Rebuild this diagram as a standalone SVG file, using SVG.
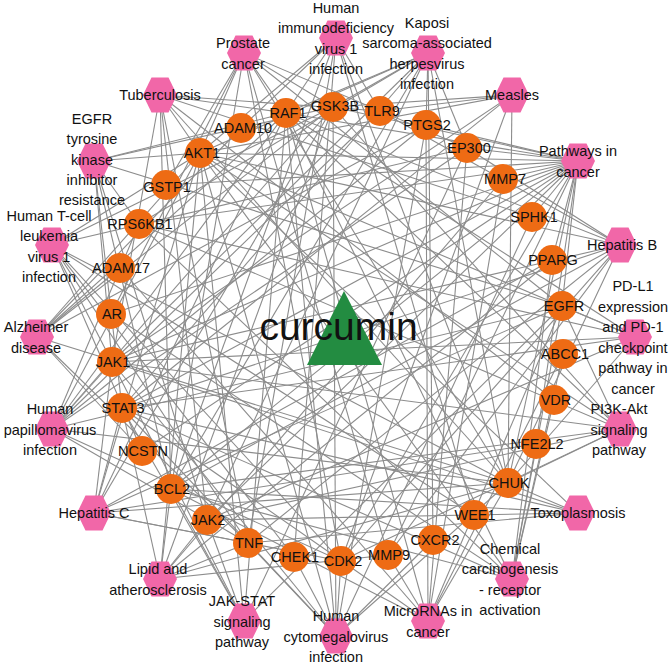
<svg xmlns="http://www.w3.org/2000/svg" xmlns:xlink="http://www.w3.org/1999/xlink" width="671" height="664" viewBox="0 0 671 664">
<style>
#edges line{stroke:#8c8c8c;stroke-width:1.1}
.gene circle{fill:#EE6B14}
.dis use{fill:#F167A8}
text{font-family:"Liberation Sans",Arial,sans-serif;font-size:14.5px;text-anchor:middle;fill:#111}
.big{font-size:39px}
</style>
<defs>
<polygon id="hex" points="-17,0 -8.5,-17.5 8.5,-17.5 17,0 8.5,17.5 -8.5,17.5"/>
</defs>
<rect width="671" height="664" fill="#fff"/>
<g id="edges">
<!-- Prostate cancer -->
<line x1="244" y1="53" x2="333" y2="107"/><line x1="244" y1="53" x2="467" y2="148"/><line x1="244" y1="53" x2="562" y2="306"/><line x1="244" y1="53" x2="508" y2="483"/><line x1="244" y1="53" x2="171" y2="489"/><line x1="244" y1="53" x2="111" y2="314"/><line x1="244" y1="53" x2="200" y2="153"/><line x1="244" y1="53" x2="286" y2="113"/><line x1="244" y1="53" x2="341" y2="561"/><line x1="244" y1="53" x2="166" y2="185"/><line x1="244" y1="53" x2="388" y2="555"/>
<!-- Tuberculosis -->
<line x1="160" y1="95" x2="380" y2="111"/><line x1="160" y1="95" x2="248" y2="543"/><line x1="160" y1="95" x2="112" y2="362"/><line x1="160" y1="95" x2="207" y2="520"/><line x1="160" y1="95" x2="171" y2="489"/><line x1="160" y1="95" x2="200" y2="153"/><line x1="160" y1="95" x2="554" y2="400"/><line x1="160" y1="95" x2="286" y2="113"/><line x1="160" y1="95" x2="532" y2="217"/><line x1="160" y1="95" x2="508" y2="483"/>
<!-- EGFR TKI resistance -->
<line x1="94" y1="161" x2="333" y2="107"/><line x1="94" y1="161" x2="562" y2="306"/><line x1="94" y1="161" x2="171" y2="489"/><line x1="94" y1="161" x2="112" y2="362"/><line x1="94" y1="161" x2="207" y2="520"/><line x1="94" y1="161" x2="122" y2="408"/><line x1="94" y1="161" x2="200" y2="153"/><line x1="94" y1="161" x2="286" y2="113"/><line x1="94" y1="161" x2="139" y2="224"/>
<!-- HTLV-1 -->
<line x1="52" y1="245" x2="333" y2="107"/><line x1="52" y1="245" x2="467" y2="148"/><line x1="52" y1="245" x2="508" y2="483"/><line x1="52" y1="245" x2="341" y2="561"/><line x1="52" y1="245" x2="294" y2="557"/><line x1="52" y1="245" x2="112" y2="362"/><line x1="52" y1="245" x2="200" y2="153"/><line x1="52" y1="245" x2="248" y2="543"/><line x1="52" y1="245" x2="474" y2="515"/><line x1="52" y1="245" x2="142" y2="451"/>
<!-- Alzheimer -->
<line x1="37" y1="337" x2="333" y2="107"/><line x1="37" y1="337" x2="426" y2="125"/><line x1="37" y1="337" x2="142" y2="451"/><line x1="37" y1="337" x2="241" y2="128"/><line x1="37" y1="337" x2="120" y2="268"/><line x1="37" y1="337" x2="508" y2="483"/><line x1="37" y1="337" x2="200" y2="153"/><line x1="37" y1="337" x2="286" y2="113"/><line x1="37" y1="337" x2="248" y2="543"/>
<!-- HPV -->
<line x1="52" y1="429" x2="333" y2="107"/><line x1="52" y1="429" x2="380" y2="111"/><line x1="52" y1="429" x2="426" y2="125"/><line x1="52" y1="429" x2="467" y2="148"/><line x1="52" y1="429" x2="508" y2="483"/><line x1="52" y1="429" x2="341" y2="561"/><line x1="52" y1="429" x2="112" y2="362"/><line x1="52" y1="429" x2="200" y2="153"/><line x1="52" y1="429" x2="286" y2="113"/><line x1="52" y1="429" x2="248" y2="543"/><line x1="52" y1="429" x2="562" y2="306"/><line x1="52" y1="429" x2="139" y2="224"/>
<!-- Hepatitis C -->
<line x1="94" y1="513" x2="333" y2="107"/><line x1="94" y1="513" x2="508" y2="483"/><line x1="94" y1="513" x2="341" y2="561"/><line x1="94" y1="513" x2="112" y2="362"/><line x1="94" y1="513" x2="122" y2="408"/><line x1="94" y1="513" x2="200" y2="153"/><line x1="94" y1="513" x2="286" y2="113"/><line x1="94" y1="513" x2="248" y2="543"/><line x1="94" y1="513" x2="562" y2="306"/><line x1="94" y1="513" x2="552" y2="260"/><line x1="94" y1="513" x2="536" y2="444"/>
<!-- Lipid and atherosclerosis -->
<line x1="160" y1="579" x2="333" y2="107"/><line x1="160" y1="579" x2="508" y2="483"/><line x1="160" y1="579" x2="171" y2="489"/><line x1="160" y1="579" x2="207" y2="520"/><line x1="160" y1="579" x2="122" y2="408"/><line x1="160" y1="579" x2="200" y2="153"/><line x1="160" y1="579" x2="248" y2="543"/><line x1="160" y1="579" x2="388" y2="555"/><line x1="160" y1="579" x2="552" y2="260"/><line x1="160" y1="579" x2="503" y2="179"/>
<!-- JAK-STAT -->
<line x1="244" y1="621" x2="112" y2="362"/><line x1="244" y1="621" x2="207" y2="520"/><line x1="244" y1="621" x2="122" y2="408"/><line x1="244" y1="621" x2="200" y2="153"/><line x1="244" y1="621" x2="286" y2="113"/><line x1="244" y1="621" x2="562" y2="306"/><line x1="244" y1="621" x2="171" y2="489"/><line x1="244" y1="621" x2="467" y2="148"/>
<!-- HCMV -->
<line x1="336" y1="636" x2="333" y2="107"/><line x1="336" y1="636" x2="426" y2="125"/><line x1="336" y1="636" x2="508" y2="483"/><line x1="336" y1="636" x2="112" y2="362"/><line x1="336" y1="636" x2="122" y2="408"/><line x1="336" y1="636" x2="200" y2="153"/><line x1="336" y1="636" x2="286" y2="113"/><line x1="336" y1="636" x2="248" y2="543"/><line x1="336" y1="636" x2="341" y2="561"/><line x1="336" y1="636" x2="433" y2="540"/><line x1="336" y1="636" x2="294" y2="557"/><line x1="336" y1="636" x2="532" y2="217"/>
<!-- MicroRNAs in cancer -->
<line x1="428" y1="621" x2="426" y2="125"/><line x1="428" y1="621" x2="467" y2="148"/><line x1="428" y1="621" x2="388" y2="555"/><line x1="428" y1="621" x2="562" y2="306"/><line x1="428" y1="621" x2="508" y2="483"/><line x1="428" y1="621" x2="171" y2="489"/><line x1="428" y1="621" x2="122" y2="408"/><line x1="428" y1="621" x2="286" y2="113"/><line x1="428" y1="621" x2="563" y2="354"/><line x1="428" y1="621" x2="120" y2="268"/><line x1="428" y1="621" x2="503" y2="179"/>
<!-- Chemical carcinogenesis -->
<line x1="512" y1="579" x2="562" y2="306"/><line x1="512" y1="579" x2="111" y2="314"/><line x1="512" y1="579" x2="554" y2="400"/><line x1="512" y1="579" x2="552" y2="260"/><line x1="512" y1="579" x2="200" y2="153"/><line x1="512" y1="579" x2="286" y2="113"/><line x1="512" y1="579" x2="122" y2="408"/><line x1="512" y1="579" x2="171" y2="489"/><line x1="512" y1="579" x2="139" y2="224"/><line x1="512" y1="579" x2="536" y2="444"/><line x1="512" y1="579" x2="563" y2="354"/>
<!-- Toxoplasmosis -->
<line x1="578" y1="513" x2="508" y2="483"/><line x1="578" y1="513" x2="171" y2="489"/><line x1="578" y1="513" x2="112" y2="362"/><line x1="578" y1="513" x2="207" y2="520"/><line x1="578" y1="513" x2="122" y2="408"/><line x1="578" y1="513" x2="200" y2="153"/><line x1="578" y1="513" x2="248" y2="543"/>
<!-- PI3K-Akt -->
<line x1="620" y1="429" x2="333" y2="107"/><line x1="620" y1="429" x2="562" y2="306"/><line x1="620" y1="429" x2="508" y2="483"/><line x1="620" y1="429" x2="341" y2="561"/><line x1="620" y1="429" x2="171" y2="489"/><line x1="620" y1="429" x2="112" y2="362"/><line x1="620" y1="429" x2="207" y2="520"/><line x1="620" y1="429" x2="200" y2="153"/><line x1="620" y1="429" x2="286" y2="113"/><line x1="620" y1="429" x2="139" y2="224"/>
<!-- PD-L1 -->
<line x1="635" y1="337" x2="562" y2="306"/><line x1="635" y1="337" x2="508" y2="483"/><line x1="635" y1="337" x2="112" y2="362"/><line x1="635" y1="337" x2="207" y2="520"/><line x1="635" y1="337" x2="122" y2="408"/><line x1="635" y1="337" x2="200" y2="153"/><line x1="635" y1="337" x2="286" y2="113"/><line x1="635" y1="337" x2="139" y2="224"/>
<!-- Hepatitis B -->
<line x1="620" y1="245" x2="508" y2="483"/><line x1="620" y1="245" x2="112" y2="362"/><line x1="620" y1="245" x2="122" y2="408"/><line x1="620" y1="245" x2="200" y2="153"/><line x1="620" y1="245" x2="286" y2="113"/><line x1="620" y1="245" x2="248" y2="543"/><line x1="620" y1="245" x2="341" y2="561"/><line x1="620" y1="245" x2="467" y2="148"/><line x1="620" y1="245" x2="388" y2="555"/><line x1="620" y1="245" x2="171" y2="489"/><line x1="620" y1="245" x2="380" y2="111"/>
<!-- Pathways in cancer -->
<line x1="578" y1="161" x2="333" y2="107"/><line x1="578" y1="161" x2="426" y2="125"/><line x1="578" y1="161" x2="467" y2="148"/><line x1="578" y1="161" x2="388" y2="555"/><line x1="578" y1="161" x2="552" y2="260"/><line x1="578" y1="161" x2="562" y2="306"/><line x1="578" y1="161" x2="508" y2="483"/><line x1="578" y1="161" x2="341" y2="561"/><line x1="578" y1="161" x2="171" y2="489"/><line x1="578" y1="161" x2="122" y2="408"/><line x1="578" y1="161" x2="112" y2="362"/><line x1="578" y1="161" x2="207" y2="520"/><line x1="578" y1="161" x2="111" y2="314"/><line x1="578" y1="161" x2="200" y2="153"/><line x1="578" y1="161" x2="286" y2="113"/><line x1="578" y1="161" x2="536" y2="444"/><line x1="578" y1="161" x2="166" y2="185"/><line x1="578" y1="161" x2="139" y2="224"/><line x1="578" y1="161" x2="142" y2="451"/><line x1="578" y1="161" x2="503" y2="179"/><line x1="578" y1="161" x2="532" y2="217"/>
<!-- Measles -->
<line x1="512" y1="95" x2="333" y2="107"/><line x1="512" y1="95" x2="380" y2="111"/><line x1="512" y1="95" x2="508" y2="483"/><line x1="512" y1="95" x2="112" y2="362"/><line x1="512" y1="95" x2="122" y2="408"/><line x1="512" y1="95" x2="200" y2="153"/><line x1="512" y1="95" x2="341" y2="561"/>
<!-- Kaposi -->
<line x1="428" y1="53" x2="333" y2="107"/><line x1="428" y1="53" x2="426" y2="125"/><line x1="428" y1="53" x2="467" y2="148"/><line x1="428" y1="53" x2="508" y2="483"/><line x1="428" y1="53" x2="171" y2="489"/><line x1="428" y1="53" x2="112" y2="362"/><line x1="428" y1="53" x2="207" y2="520"/><line x1="428" y1="53" x2="122" y2="408"/><line x1="428" y1="53" x2="200" y2="153"/><line x1="428" y1="53" x2="286" y2="113"/><line x1="428" y1="53" x2="139" y2="224"/><line x1="428" y1="53" x2="433" y2="540"/>
<!-- HIV-1 -->
<line x1="336" y1="38" x2="200" y2="153"/><line x1="336" y1="38" x2="171" y2="489"/><line x1="336" y1="38" x2="294" y2="557"/><line x1="336" y1="38" x2="508" y2="483"/><line x1="336" y1="38" x2="286" y2="113"/><line x1="336" y1="38" x2="248" y2="543"/><line x1="336" y1="38" x2="474" y2="515"/><line x1="336" y1="38" x2="380" y2="111"/><line x1="336" y1="38" x2="241" y2="128"/>
</g>
<g id="curcumin">
<polygon points="344,291 382,365 307,365" fill="#238C41"/>
<text class="big" x="338.5" y="340">curcumin</text>
</g>
<g class="gene">
<g id="GSK3B"><circle cx="333" cy="107" r="15"/><text x="335" y="111">GSK3B</text></g>
<g id="TLR9"><circle cx="380" cy="111" r="15"/><text x="382" y="116">TLR9</text></g>
<g id="PTGS2"><circle cx="426" cy="125" r="15"/><text x="427" y="130">PTGS2</text></g>
<g id="EP300"><circle cx="467" cy="148" r="15"/><text x="469" y="153">EP300</text></g>
<g id="MMP7"><circle cx="503" cy="179" r="15"/><text x="505" y="184">MMP7</text></g>
<g id="SPHK1"><circle cx="532" cy="217" r="15"/><text x="534" y="222">SPHK1</text></g>
<g id="PPARG"><circle cx="552" cy="260" r="15"/><text x="553" y="265">PPARG</text></g>
<g id="EGFR"><circle cx="562" cy="306" r="15"/><text x="564" y="311">EGFR</text></g>
<g id="ABCC1"><circle cx="563" cy="354" r="15"/><text x="565" y="359">ABCC1</text></g>
<g id="VDR"><circle cx="554" cy="400" r="15"/><text x="556" y="405">VDR</text></g>
<g id="NFE2L2"><circle cx="536" cy="444" r="15"/><text x="537" y="449">NFE2L2</text></g>
<g id="CHUK"><circle cx="508" cy="483" r="15"/><text x="509" y="488">CHUK</text></g>
<g id="WEE1"><circle cx="474" cy="515" r="15"/><text x="475" y="520">WEE1</text></g>
<g id="CXCR2"><circle cx="433" cy="540" r="15"/><text x="435" y="545">CXCR2</text></g>
<g id="MMP9"><circle cx="388" cy="555" r="15"/><text x="389" y="560">MMP9</text></g>
<g id="CDK2"><circle cx="341" cy="561" r="15"/><text x="343" y="566">CDK2</text></g>
<g id="CHEK1"><circle cx="294" cy="557" r="15"/><text x="295" y="562">CHEK1</text></g>
<g id="TNF"><circle cx="248" cy="543" r="15"/><text x="249" y="548">TNF</text></g>
<g id="JAK2"><circle cx="207" cy="520" r="15"/><text x="208" y="525">JAK2</text></g>
<g id="BCL2"><circle cx="171" cy="489" r="15"/><text x="172" y="494">BCL2</text></g>
<g id="NCSTN"><circle cx="142" cy="451" r="15"/><text x="143" y="456">NCSTN</text></g>
<g id="STAT3"><circle cx="122" cy="408" r="15"/><text x="123" y="413">STAT3</text></g>
<g id="JAK1"><circle cx="112" cy="362" r="15"/><text x="113" y="367">JAK1</text></g>
<g id="AR"><circle cx="111" cy="314" r="15"/><text x="112" y="319">AR</text></g>
<g id="ADAM17"><circle cx="120" cy="268" r="15"/><text x="121" y="273">ADAM17</text></g>
<g id="RPS6KB1"><circle cx="139" cy="224" r="15"/><text x="140" y="229">RPS6KB1</text></g>
<g id="GSTP1"><circle cx="166" cy="185" r="15"/><text x="167" y="192">GSTP1</text></g>
<g id="AKT1"><circle cx="200" cy="153" r="15"/><text x="202" y="158">AKT1</text></g>
<g id="ADAM10"><circle cx="241" cy="128" r="15"/><text x="243" y="133">ADAM10</text></g>
<g id="RAF1"><circle cx="286" cy="113" r="15"/><text x="288" y="118">RAF1</text></g>
</g>
<g class="dis">
<g id="HIV"><use xlink:href="#hex" href="#hex" x="336" y="38"/><text x="336" y="12.5"><tspan x="336">Human</tspan><tspan x="336" dy="20.5">immunodeficiency</tspan><tspan x="336" dy="20.5">virus 1</tspan><tspan x="336" dy="20.5">infection</tspan></text></g>
<g id="Kaposi"><use xlink:href="#hex" href="#hex" x="428" y="53"/><text x="427" y="27.5"><tspan x="427">Kaposi</tspan><tspan x="427" dy="20.5">sarcoma-associated</tspan><tspan x="427" dy="20.5">herpesvirus</tspan><tspan x="427" dy="20.5">infection</tspan></text></g>
<g id="Measles"><use xlink:href="#hex" href="#hex" x="512" y="95"/><text x="512" y="100">Measles</text></g>
<g id="PathwaysInCancer"><use xlink:href="#hex" href="#hex" x="578" y="161"/><text x="578" y="156"><tspan x="578">Pathways in</tspan><tspan x="578" dy="20.5">cancer</tspan></text></g>
<g id="HepatitisB"><use xlink:href="#hex" href="#hex" x="620" y="245"/><text x="622" y="250">Hepatitis B</text></g>
<g id="PDL1"><use xlink:href="#hex" href="#hex" x="635" y="337"/><text x="633" y="291"><tspan x="633">PD-L1</tspan><tspan x="633" dy="20.5">expression</tspan><tspan x="633" dy="20.5">and PD-1</tspan><tspan x="633" dy="20.5">checkpoint</tspan><tspan x="633" dy="20.5">pathway in</tspan><tspan x="633" dy="20.5">cancer</tspan></text></g>
<g id="PI3KAkt"><use xlink:href="#hex" href="#hex" x="620" y="429"/><text x="619" y="414"><tspan x="619">PI3K-Akt</tspan><tspan x="619" dy="20.5">signaling</tspan><tspan x="619" dy="20.5">pathway</tspan></text></g>
<g id="Toxoplasmosis"><use xlink:href="#hex" href="#hex" x="578" y="513"/><text x="578" y="518">Toxoplasmosis</text></g>
<g id="ChemCarcinogenesis"><use xlink:href="#hex" href="#hex" x="512" y="579"/><text x="510" y="553.5"><tspan x="510">Chemical</tspan><tspan x="510" dy="20.5">carcinogenesis</tspan><tspan x="510" dy="20.5">- receptor</tspan><tspan x="510" dy="20.5">activation</tspan></text></g>
<g id="MicroRNAs"><use xlink:href="#hex" href="#hex" x="428" y="621"/><text x="428" y="616"><tspan x="428">MicroRNAs in</tspan><tspan x="428" dy="20.5">cancer</tspan></text></g>
<g id="HCMV"><use xlink:href="#hex" href="#hex" x="336" y="636"/><text x="336" y="621"><tspan x="336">Human</tspan><tspan x="336" dy="20.5">cytomegalovirus</tspan><tspan x="336" dy="20.5">infection</tspan></text></g>
<g id="JAKSTAT"><use xlink:href="#hex" href="#hex" x="244" y="621"/><text x="242" y="606"><tspan x="242">JAK-STAT</tspan><tspan x="242" dy="20.5">signaling</tspan><tspan x="242" dy="20.5">pathway</tspan></text></g>
<g id="Lipid"><use xlink:href="#hex" href="#hex" x="160" y="579"/><text x="158" y="574"><tspan x="158">Lipid and</tspan><tspan x="158" dy="20.5">atherosclerosis</tspan></text></g>
<g id="HepatitisC"><use xlink:href="#hex" href="#hex" x="94" y="513"/><text x="94" y="518">Hepatitis C</text></g>
<g id="HPV"><use xlink:href="#hex" href="#hex" x="52" y="429"/><text x="50" y="414"><tspan x="50">Human</tspan><tspan x="50" dy="20.5">papillomavirus</tspan><tspan x="50" dy="20.5">infection</tspan></text></g>
<g id="Alzheimer"><use xlink:href="#hex" href="#hex" x="37" y="337"/><text x="36" y="332"><tspan x="36">Alzheimer</tspan><tspan x="36" dy="20.5">disease</tspan></text></g>
<g id="HTLV"><use xlink:href="#hex" href="#hex" x="52" y="245"/><text x="49" y="221"><tspan x="49">Human T-cell</tspan><tspan x="49" dy="20.3">leukemia</tspan><tspan x="49" dy="20.3">virus 1</tspan><tspan x="49" dy="20.3">infection</tspan></text></g>
<g id="EGFRTKI"><use xlink:href="#hex" href="#hex" x="94" y="161"/><text x="92" y="124"><tspan x="92">EGFR</tspan><tspan x="92" dy="20.3">tyrosine</tspan><tspan x="92" dy="20.3">kinase</tspan><tspan x="92" dy="20.3">inhibitor</tspan><tspan x="92" dy="20.3">resistance</tspan></text></g>
<g id="Tuberculosis"><use xlink:href="#hex" href="#hex" x="160" y="95"/><text x="160" y="100">Tuberculosis</text></g>
<g id="Prostate"><use xlink:href="#hex" href="#hex" x="244" y="53"/><text x="243" y="48"><tspan x="243">Prostate</tspan><tspan x="243" dy="20.5">cancer</tspan></text></g>
</g>
</svg>
